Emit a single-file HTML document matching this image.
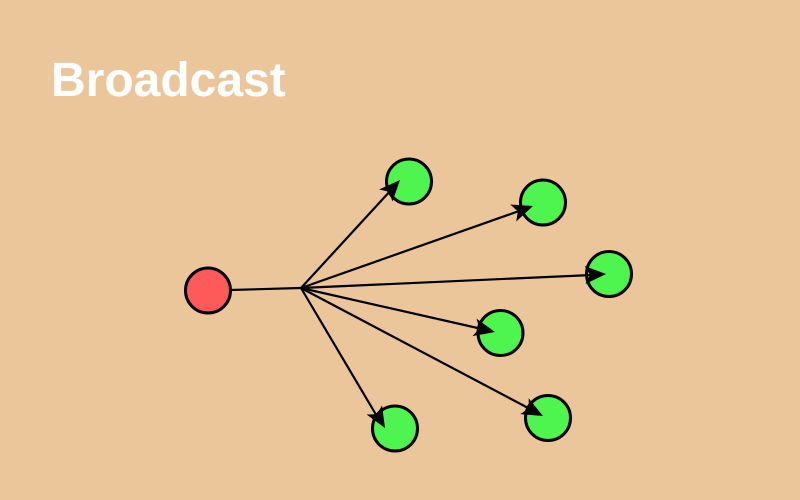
<!DOCTYPE html>
<html><head><style>
html,body{margin:0;padding:0;background:#EBC69B;}
</style></head><body>
<svg width="800" height="500" xmlns="http://www.w3.org/2000/svg" style="display:block">
<rect width="800" height="500" fill="#EBC69B"/>
<text x="51" y="96" font-family="Liberation Sans, sans-serif" font-weight="bold" font-size="48" fill="#FFFFFF">Broadcast</text>
<circle cx="208" cy="290.5" r="22.5" fill="#FF5A5A" stroke="#000" stroke-width="3"/>
<circle cx="409" cy="181.5" r="22.5" fill="#4EF54E" stroke="#000" stroke-width="3"/>
<circle cx="543" cy="202.5" r="22.5" fill="#4EF54E" stroke="#000" stroke-width="3"/>
<circle cx="609" cy="274" r="22.5" fill="#4EF54E" stroke="#000" stroke-width="3"/>
<circle cx="500.5" cy="333" r="22.5" fill="#4EF54E" stroke="#000" stroke-width="3"/>
<circle cx="548" cy="418" r="22.5" fill="#4EF54E" stroke="#000" stroke-width="3"/>
<circle cx="395" cy="428.5" r="22.5" fill="#4EF54E" stroke="#000" stroke-width="3"/>
<g stroke="#000" stroke-width="2.2" fill="none">
<line x1="230" y1="290" x2="301" y2="288"/>
<line x1="301" y1="288" x2="392" y2="189"/>
<line x1="301" y1="288" x2="522" y2="210"/>
<line x1="301" y1="288" x2="592" y2="275"/>
<line x1="301" y1="288" x2="482" y2="329"/>
<line x1="301" y1="288" x2="532" y2="410"/>
<line x1="301" y1="288" x2="378" y2="418"/>
</g>
<g fill="#000">
<path d="M0,0 L-21,-9 L-16,0 L-21,9 Z" transform="translate(400,180) rotate(-47.5)"/>
<path d="M0,0 L-21,-9 L-16,0 L-21,9 Z" transform="translate(533,206) rotate(-19.5)"/>
<path d="M0,0 L-21,-9 L-16,0 L-21,9 Z" transform="translate(606,274) rotate(-2.6)"/>
<path d="M0,0 L-21,-9 L-16,0 L-21,9 Z" transform="translate(495,332) rotate(12.8)"/>
<path d="M0,0 L-21,-9 L-16,0 L-21,9 Z" transform="translate(543,416) rotate(27.9)"/>
<path d="M0,0 L-21,-9 L-16,0 L-21,9 Z" transform="translate(385,428) rotate(59.4)"/>
</g>
</svg>
</body></html>
